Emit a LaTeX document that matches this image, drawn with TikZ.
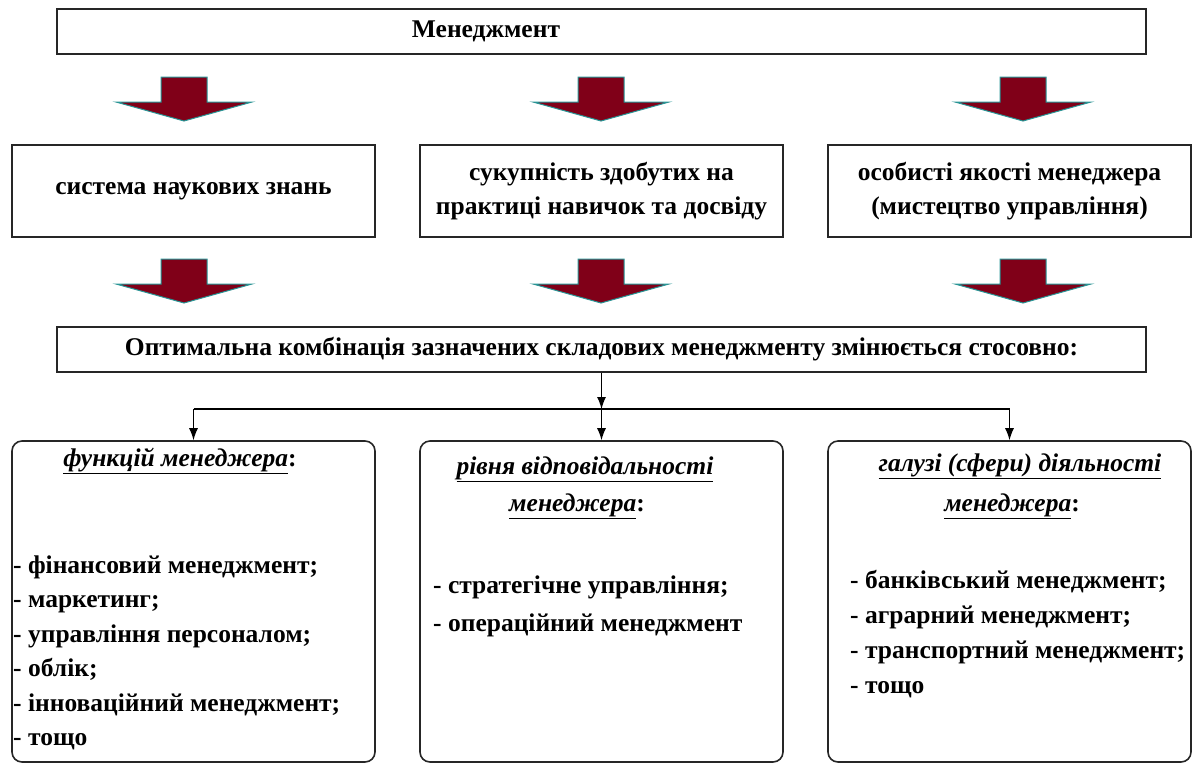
\documentclass[tikz,border=0pt]{standalone}
\usepackage{fontspec}
\setmainfont{Liberation Serif}
\usetikzlibrary{arrows.meta}
\usetikzlibrary{positioning}
\definecolor{arrowred}{RGB}{128,0,24}
\definecolor{arrowedge}{RGB}{40,150,150}

\begin{document}
\begin{tikzpicture}[
    x=1pt, y=-1pt,
    every node/.style={font=\fontsize{25.5}{34}\selectfont\bfseries, inner sep=0pt},
    plainbox/.style={draw=black!85, line width=1.6pt, minimum width=363, minimum height=92, align=center},
    widebox/.style={plainbox, minimum width=1089, minimum height=45},
    roundbox/.style={draw=black!85, line width=1.6pt, rounded corners=10pt, minimum width=363, minimum height=321},
    item/.style={anchor=base west},
    head/.style={anchor=base},
    link/.style={line width=1.2pt, -{Latex[length=12pt,width=9pt]}},
    blockarrow/.pic={\draw[fill=arrowred, draw=arrowedge, line width=1pt]
        (-23,0) -- (23,0) -- (23,25) -- (68,25) -- (0,44) -- (-68,25) -- (-23,25) -- cycle;},
]
\useasboundingbox (0,0) rectangle (1198,764);

\node[widebox] (mgmt) at (601.5,31.5) {};
\node (mgmtText) at (486,31.5) {Менеджмент};

\foreach \cx in {184,601,1023} {
    \pic at (\cx,77) {blockarrow};
    \pic at (\cx,259) {blockarrow};
}

\node[plainbox] (know) at (193.5,191) {система наукових знань};
\node[plainbox] (skill) at (601.5,191) {сукупність здобутих на\\практиці навичок та досвіду};
\node[plainbox] (art) at (1009.5,191) {особисті якості менеджера\\(мистецтво управління)};

\node[widebox] (combo) at (601.5,349.5) {Оптимальна комбінація зазначених складових менеджменту змінюється стосовно:};

\node[roundbox] (func) at (193.5,601.5) {};
\node[roundbox] (level) at (601.5,601.5) {};
\node[roundbox] (field) at (1009.5,601.5) {};

\coordinate (split) at (601.5,409);
\draw[link] (combo.south) -- (split);
\draw[line width=1.2pt] (func.north |- split) -- (field.north |- split);
\foreach \b in {func,level,field}
    \draw[link] (\b.north |- split) -- (\b.north);

\node[head] (funcHead) at (180,466) {\underline{\textit{функцій менеджера}}:};
\node[head] (levelHead1) at (585,474) {\underline{\textit{рівня відповідальності}}};
\node[head] (levelHead2) at (577,511) {\underline{\textit{менеджера}}:};
\node[head] (fieldHead1) at (1020,471) {\underline{\textit{галузі (сфери) діяльності}}};
\node[head] (fieldHead2) at (1012,511) {\underline{\textit{менеджера}}:};

\foreach \txt [count=\i] in {{фінансовий менеджмент;},{маркетинг;},{управління персоналом;},{облік;},{інноваційний менеджмент;},{тощо}}
    \node[item] (func-\i) at (13,538.5+34.5*\i) {- \txt};
\foreach \txt [count=\i] in {{стратегічне управління;},{операційний менеджмент}}
    \node[item] (level-\i) at (433,555+38*\i) {- \txt};
\foreach \txt [count=\i] in {{банківський менеджмент;},{аграрний менеджмент;},{транспортний менеджмент;},{тощо}}
    \node[item] (field-\i) at (850,553+35*\i) {- \txt};
\end{tikzpicture}
\end{document}
